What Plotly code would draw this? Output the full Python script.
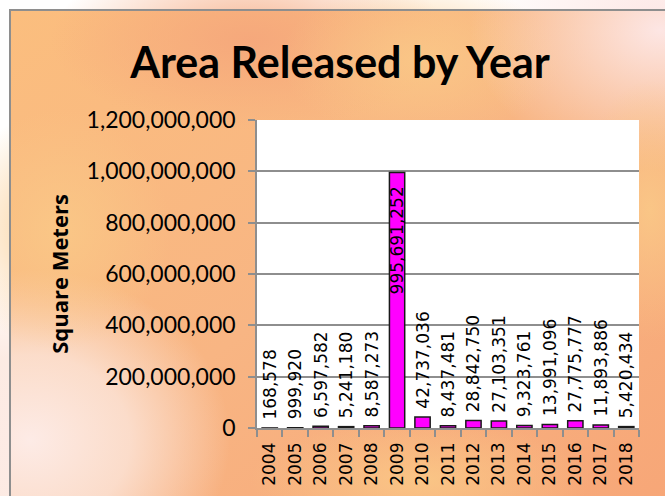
import base64
import plotly.graph_objects as go

# chart values
years = ["2004", "2005", "2006", "2007", "2008", "2009", "2010", "2011",
         "2012", "2013", "2014", "2015", "2016", "2017", "2018"]
area_m2 = [168578, 999920, 6597582, 5241180, 8587273, 995691252, 42737036,
           8437481, 28842750, 27103351, 9323761, 13991096, 27775777,
           11893886, 5420434]
y_ticks = [0, 200000000, 400000000, 600000000, 800000000, 1000000000, 1200000000]

W, H = 665, 496
L, R, T, B = 257, 26, 120, 68
pw, ph = W - L - R, H - T - B

# peachy mottled backdrop with the thin grey frame, as an inline svg
bg_svg = f"""<svg xmlns="http://www.w3.org/2000/svg" width="{W}" height="{H}" viewBox="0 0 {W} {H}">
<defs>
<linearGradient id="base" x1="0" y1="0" x2="1" y2="1">
<stop offset="0" stop-color="#FBBE7E"/><stop offset="0.5" stop-color="#F8B583"/>
<stop offset="1" stop-color="#F7A677"/></linearGradient>
<radialGradient id="tr"><stop offset="0" stop-color="#FDE6E4" stop-opacity="1"/>
<stop offset="1" stop-color="#FDE6E4" stop-opacity="0"/></radialGradient>
<radialGradient id="bl"><stop offset="0" stop-color="#FDEBE6" stop-opacity="1"/>
<stop offset="0.5" stop-color="#FCE6DC" stop-opacity="0.8"/>
<stop offset="1" stop-color="#FCE6DC" stop-opacity="0"/></radialGradient>
<radialGradient id="sal"><stop offset="0" stop-color="#F5A67B" stop-opacity="0.9"/>
<stop offset="1" stop-color="#F5A67B" stop-opacity="0"/></radialGradient>
<radialGradient id="yel"><stop offset="0" stop-color="#FAC887" stop-opacity="0.9"/>
<stop offset="1" stop-color="#FAC887" stop-opacity="0"/></radialGradient>
</defs>
<rect x="0" y="0" width="{W}" height="{H}" fill="#FFFFFF"/>
<rect x="10" y="10" width="{W}" height="{H}" fill="url(#base)"/>
<ellipse cx="250" cy="40" rx="200" ry="90" fill="url(#sal)"/>
<ellipse cx="420" cy="60" rx="140" ry="80" fill="url(#yel)"/>
<ellipse cx="660" cy="30" rx="190" ry="140" fill="url(#tr)"/>
<ellipse cx="30" cy="440" rx="200" ry="170" fill="url(#bl)"/>
<ellipse cx="60" cy="230" rx="110" ry="120" fill="url(#yel)"/>
<ellipse cx="650" cy="210" rx="70" ry="130" fill="url(#yel)"/>
<ellipse cx="420" cy="480" rx="170" ry="60" fill="url(#yel)"/>
<path d="M10 {H} L10 10 L{W} 10" fill="none" stroke="#8E8E8E" stroke-width="2"/>
</svg>"""
bg_uri = "data:image/svg+xml;base64," + base64.b64encode(bg_svg.encode()).decode()

big = max(area_m2)
positions = ["inside" if v == big else "outside" for v in area_m2]
# a little breathing room between label and bar, like the original
labels = ["%{y:,}\u00a0\u00a0" if v == big else "\u00a0%{y:,}" for v in area_m2]

lbl_font = dict(family="DejaVu Sans", size=17, color="#000000",
                lineposition="none", shadow="none")

fig = go.Figure()
fig.add_trace(go.Bar(
    x=years,
    y=area_m2,
    width=0.6,
    marker=dict(color="#FF00FF", line=dict(color="#1A1A1A", width=1.5)),
    texttemplate=labels,
    textposition=positions,
    insidetextanchor="end",
    textangle=-90,
    constraintext="none",
    cliponaxis=False,
    textfont=lbl_font,
    insidetextfont=lbl_font,
    outsidetextfont=lbl_font,
    hoverinfo="x+y",
))

fig.update_layout(
    width=W, height=H,
    margin=dict(l=L, r=R, t=T, b=B, autoexpand=False),
    paper_bgcolor="rgba(0,0,0,0)",
    plot_bgcolor="#FFFFFF",
    showlegend=False,
    title=dict(
        text="<b>Area Released by Year</b>",
        font=dict(family="Lato", size=43, color="#000000"),
        x=340 / W, xref="container", xanchor="center",
        y=1 - 63 / H, yref="container", yanchor="middle",
    ),
    images=[dict(
        source=bg_uri, xref="paper", yref="paper",
        x=-L / pw, y=1 + T / ph, sizex=W / pw, sizey=H / ph,
        xanchor="left", yanchor="top", sizing="stretch", layer="below",
    )],
    # white plot area on top of the backdrop image
    shapes=[dict(type="rect", xref="paper", yref="paper", x0=0, x1=1, y0=0, y1=1,
                 fillcolor="#FFFFFF", line=dict(width=0), layer="below")],
)

fig.update_xaxes(
    type="category",
    tickangle=-90,
    tickfont=dict(family="DejaVu Sans", size=17, color="#000000"),
    ticks="outside", tickson="boundaries", ticklen=7, tickwidth=1.5,
    tickcolor="#8E8E8E",
    ticklabelstandoff=6,
    showline=True, linecolor="#8E8E8E", linewidth=1.5,
    showgrid=False,
)

fig.update_yaxes(
    range=[0, 1200000000],
    tickvals=y_ticks,
    tickformat=",",
    tickfont=dict(family="Lato", size=23, color="#000000"),
    ticks="outside", ticklen=7, tickwidth=1.5, tickcolor="#8E8E8E",
    ticklabelstandoff=8,
    showline=True, linecolor="#8E8E8E", linewidth=1.5,
    showgrid=True, gridcolor="#8E8E8E", gridwidth=1.5,
    zeroline=False,
    title=dict(text="<b>Square Meters</b>",
               font=dict(family="Open Sans", size=22, color="#000000"),
               standoff=12),
)

fig.write_html("out.html", config={"displayModeBar": False},
               post_script="document.body.style.margin='0';")
